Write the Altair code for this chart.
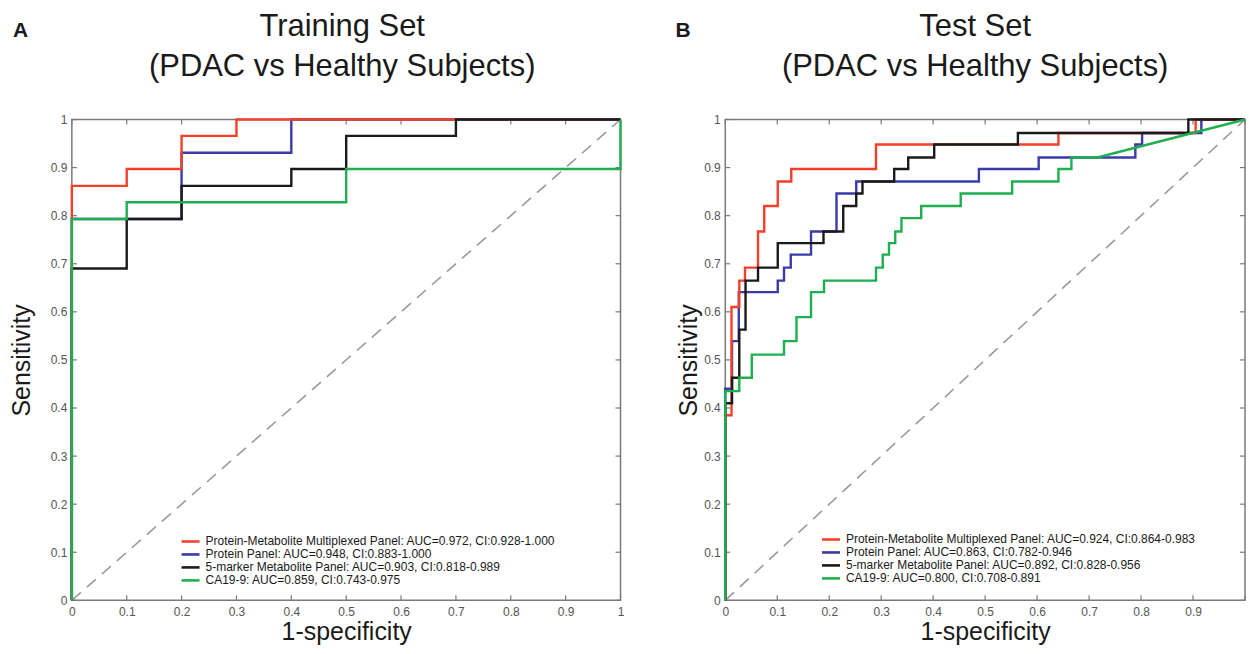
import altair as alt
import pandas as pd

FONT = "Liberation Sans"

# ---------------- data ----------------
TICKS = [0, 0.1, 0.2, 0.3, 0.4, 0.5, 0.6, 0.7, 0.8, 0.9, 1.0]

COLORS = ["#f4402a", "#3a3aaa", "#1a1a1a", "#1eb04e"]   # red, blue, black, green
DRAW_ORDER = [1, 0, 2, 3]                                 # blue, red, black, green (green on top)

train_labels = [
    "Protein-Metabolite Multiplexed Panel: AUC=0.972, CI:0.928-1.000",
    "Protein Panel: AUC=0.948, CI:0.883-1.000",
    "5-marker Metabolite Panel: AUC=0.903, CI:0.818-0.989",
    "CA19-9: AUC=0.859, CI:0.743-0.975",
]
test_labels = [
    "Protein-Metabolite Multiplexed Panel: AUC=0.924, CI:0.864-0.983",
    "Protein Panel: AUC=0.863, CI:0.782-0.946",
    "5-marker Metabolite Panel: AUC=0.892, CI:0.828-0.956",
    "CA19-9: AUC=0.800, CI:0.708-0.891",
]

# Training set ROC operating points (1-specificity, sensitivity)
train_red_fpr = [0, 0.1, 0.2, 0.3]
train_red_tpr = [0.862, 0.897, 0.966, 1.0]
train_blue_fpr = [0, 0.2, 0.4]
train_blue_tpr = [0.793, 0.931, 1.0]
train_black_fpr = [0, 0.1, 0.2, 0.4, 0.5, 0.7]
train_black_tpr = [0.690, 0.793, 0.862, 0.897, 0.966, 1.0]
train_green_fpr = [0, 0.1, 0.5, 1.0]
train_green_tpr = [0.793, 0.828, 0.897, 1.0]

# Test set ROC operating points
test_red_fpr = [0, 0.012, 0.027, 0.038, 0.063, 0.075, 0.101, 0.127, 0.290, 0.641, 0.905]
test_red_tpr = [0.385, 0.610, 0.665, 0.692, 0.767, 0.820, 0.871, 0.897, 0.948, 0.972, 1.0]
test_blue_fpr = [0, 0.013, 0.026, 0.101, 0.113, 0.126, 0.165, 0.214, 0.252, 0.488, 0.603, 0.789, 0.802, 0.916]
test_blue_tpr = [0.440, 0.539, 0.641, 0.665, 0.692, 0.719, 0.767, 0.846, 0.871, 0.897, 0.921, 0.948, 0.972, 1.0]
test_black_fpr = [0, 0.013, 0.027, 0.039, 0.063, 0.101, 0.189, 0.227, 0.252, 0.264, 0.325, 0.352, 0.402, 0.563, 0.891]
test_black_tpr = [0.410, 0.463, 0.563, 0.665, 0.692, 0.743, 0.767, 0.820, 0.846, 0.871, 0.897, 0.921, 0.948, 0.972, 1.0]
test_green_fpr = [0, 0.027, 0.051, 0.113, 0.137, 0.165, 0.190, 0.290, 0.303, 0.315, 0.327, 0.339, 0.377, 0.453, 0.552, 0.641, 0.666, 0.716]
test_green_tpr = [0.435, 0.463, 0.511, 0.539, 0.589, 0.641, 0.665, 0.692, 0.719, 0.743, 0.767, 0.795, 0.820, 0.846, 0.871, 0.897, 0.921, 0.921]
test_green_tail_fpr = [1.0]     # linear (tied) segment to the corner
test_green_tail_tpr = [1.0]


def roc_vertices(fpr, tpr, tail_x=(), tail_y=()):
    xs, ys = [0.0], [0.0]
    for x, y in zip(fpr, tpr):
        xs += [x, x]
        ys += [ys[-1], y]
    for x, y in zip(tail_x, tail_y):
        xs.append(x)
        ys.append(y)
    if xs[-1] < 1.0:
        xs.append(1.0)
        ys.append(ys[-1])
    return xs, ys


def build_df(curves, labels):
    rows = []
    for label, (xs, ys) in zip(labels, curves):
        for i, (x, y) in enumerate(zip(xs, ys)):
            rows.append({"x": x, "y": y, "series": label, "i": i})
    return pd.DataFrame(rows)


train_df = build_df([
    roc_vertices(train_red_fpr, train_red_tpr),
    roc_vertices(train_blue_fpr, train_blue_tpr),
    roc_vertices(train_black_fpr, train_black_tpr),
    roc_vertices(train_green_fpr, train_green_tpr),
], train_labels)

test_df = build_df([
    roc_vertices(test_red_fpr, test_red_tpr),
    roc_vertices(test_blue_fpr, test_blue_tpr),
    roc_vertices(test_black_fpr, test_black_tpr),
    roc_vertices(test_green_fpr, test_green_tpr, test_green_tail_fpr, test_green_tail_tpr),
], test_labels)

diag_df = pd.DataFrame({"x": [0.0, 1.0], "y": [0.0, 1.0]})
xtick_df = pd.DataFrame({"x": TICKS})
ytick_df = pd.DataFrame({"y": TICKS})

H = 482
BOX = "#7a7a7a"


def panel(df, labels, title_lines, letter, letter_x, title_dx, ytitle_pad, width,
          legend_x, legend_rows, hide_last_x_label):
    xscale = alt.Scale(domain=[0, 1], nice=False, zero=False)
    yscale = alt.Scale(domain=[0, 1], nice=False, zero=False)
    xaxis_kw = dict(values=TICKS, format="~g", ticks=False, domain=False, grid=False,
                    labelFontSize=12, labelColor="#555555", labelPadding=6, labelFlush=False,
                    labelFont=FONT, title="1-specificity", titleFontSize=25,
                    titleFontWeight="normal", titleColor="#1a1a1a", titleFont=FONT,
                    titlePadding=2)
    if hide_last_x_label:
        xaxis_kw["labelExpr"] = "datum.value == 1 ? '' : datum.label"
    X = alt.X("x:Q", scale=xscale, axis=alt.Axis(**xaxis_kw))
    Y = alt.Y("y:Q", scale=yscale,
              axis=alt.Axis(values=TICKS, format="~g", ticks=False, domain=False, grid=False,
                            labelFontSize=12, labelColor="#555555", labelPadding=5,
                            labelFlush=False, labelFont=FONT,
                            title="Sensitivity", titleFontSize=25, titleFontWeight="normal",
                            titleColor="#1a1a1a", titleFont=FONT, titlePadding=ytitle_pad))
    cscale = alt.Scale(domain=labels, range=COLORS)
    color = alt.Color("series:N", scale=cscale, legend=None)

    diag = alt.Chart(diag_df).mark_line(color="#9a9a9a", strokeDash=[12, 8],
                                        strokeWidth=1.6).encode(x=X, y=Y)
    tick_style = dict(color=BOX, strokeWidth=1.2)
    bottom = alt.Chart(xtick_df).mark_rule(**tick_style).encode(
        x=X, y=alt.value(H), y2=alt.value(H - 5))
    top = alt.Chart(xtick_df).mark_rule(**tick_style).encode(
        x=X, y=alt.value(0), y2=alt.value(5))
    left = alt.Chart(ytick_df).mark_rule(**tick_style).encode(
        y=Y, x=alt.value(0), x2=alt.value(5))
    right = alt.Chart(ytick_df).mark_rule(**tick_style).encode(
        y=Y, x=alt.value(width), x2=alt.value(width - 5))

    lines = []
    for k in DRAW_ORDER:
        lines.append(
            alt.Chart(df).transform_filter(alt.datum.series == labels[k])
            .mark_line(strokeWidth=2.4, interpolate="linear")
            .encode(x=X, y=Y, color=color, order="i:Q")
        )

    tag = alt.Chart(pd.DataFrame({"t": [letter]})).mark_text(
        font=FONT, fontSize=21, fontWeight="bold", color="#1a1a1a",
        align="left", baseline="alphabetic").encode(
        text="t:N", x=alt.value(letter_x), y=alt.value(-83))

    main = alt.layer(diag, bottom, top, left, right, *lines, tag)

    # in-plot legend (MATLAB style)
    leg_df = pd.DataFrame({"series": labels, "row": list(range(len(labels)))})
    ROW = alt.Y("row:O", axis=None,
                scale=alt.Scale(type="point", domain=list(range(len(labels))),
                                range=legend_rows, padding=0))
    leg_sym = alt.Chart(leg_df).mark_rule(strokeWidth=2.6).encode(
        x=alt.value(legend_x), x2=alt.value(legend_x + 18), y=ROW, color=color)
    leg_txt = alt.Chart(leg_df).mark_text(
        font=FONT, fontSize=12, color="#1a1a1a", align="left", baseline="middle").encode(
        x=alt.value(legend_x + 24), y=ROW, text="series:N")

    return alt.layer(main, leg_sym, leg_txt).resolve_scale(y="independent").properties(
        width=width, height=H,
        title=alt.TitleParams(text=title_lines, fontSize=31, font=FONT, fontWeight="normal",
                              color="#1a1a1a", lineHeight=40, anchor="middle",
                              dx=title_dx, offset=-63),
    )


left_panel = panel(train_df, train_labels, ["Training Set", "(PDAC vs Healthy Subjects)"],
                   "A", -59, -4, 15.5, 550, 110, [423, 462], False)
right_panel = panel(test_df, test_labels, ["Test Set", "(PDAC vs Healthy Subjects)"],
                    "B", -50, -10, 2, 521, 97, [421, 460], True)

chart = (
    alt.hconcat(left_panel, right_panel, spacing=105, bounds="flush")
    .resolve_scale(color="independent")
    .properties(padding={"left": 1, "top": 1, "right": 0, "bottom": 0})
    .configure(font=FONT)
    .configure_view(stroke=BOX, strokeWidth=1.5)
)

chart.save("out.html", embed_options={"renderer": "svg", "actions": False})
